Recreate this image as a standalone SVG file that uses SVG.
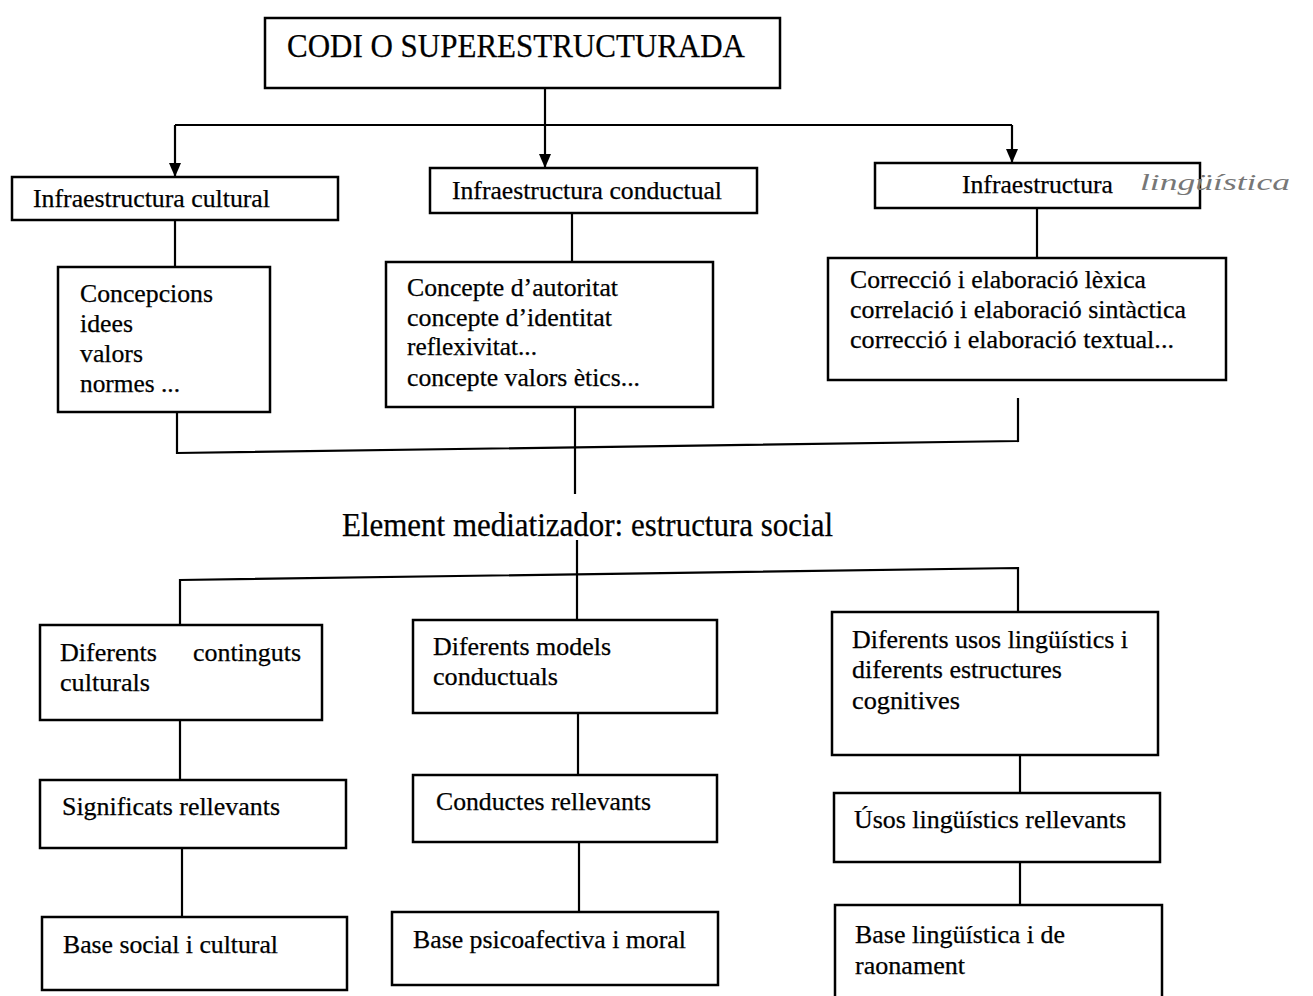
<svg xmlns="http://www.w3.org/2000/svg" width="1313" height="996" viewBox="0 0 1313 996">
<style>
.box{fill:#fff;stroke:#000;stroke-width:2.5}
.t{font-family:"Liberation Serif","Times New Roman",serif;font-size:25px;fill:#000;stroke:#000;stroke-width:0.25}
.big{font-family:"Liberation Serif","Times New Roman",serif;font-size:33px;fill:#000;stroke:#000;stroke-width:0.25}
.c{fill:none;stroke:#000;stroke-width:2.2}
.hand{font-family:"Liberation Serif",serif;font-style:italic;font-size:24px;fill:#777}
</style>
<defs>
<marker id="ah" viewBox="0 0 14 12" refX="14" refY="6" markerWidth="14" markerHeight="12" markerUnits="userSpaceOnUse" orient="auto">
<path d="M0,0 L14,6 L0,12 Z" fill="#000"/>
</marker>
</defs>
<rect width="1313" height="996" fill="#fff"/>
<g id="connectors">
<line class="c" x1="545" y1="88" x2="545" y2="125"/>
<line class="c" x1="175" y1="125" x2="1012" y2="125"/>
<line class="c" x1="175" y1="125" x2="175" y2="177" marker-end="url(#ah)"/>
<line class="c" x1="545" y1="125" x2="545" y2="168" marker-end="url(#ah)"/>
<line class="c" x1="1012" y1="125" x2="1012" y2="163" marker-end="url(#ah)"/>
<line class="c" x1="175" y1="220" x2="175" y2="267"/>
<line class="c" x1="572" y1="213" x2="572" y2="262"/>
<line class="c" x1="1037" y1="208" x2="1037" y2="258"/>
<polyline class="c" points="177,412 177,453 1018,441 1018,398"/>
<line class="c" x1="575" y1="400" x2="575" y2="494"/>
<line class="c" x1="577" y1="540" x2="577" y2="620"/>
<polyline class="c" points="180,625 180,580 1018,568 1018,612"/>
<line class="c" x1="180" y1="720" x2="180" y2="780"/>
<line class="c" x1="578" y1="713" x2="578" y2="775"/>
<line class="c" x1="1020" y1="755" x2="1020" y2="793"/>
<line class="c" x1="182" y1="848" x2="182" y2="917"/>
<line class="c" x1="579" y1="842" x2="579" y2="912"/>
<line class="c" x1="1020" y1="862" x2="1020" y2="905"/>
</g>
<g id="codi">
<rect class="box" x="265" y="18" width="515" height="70"/>
<text class="big" x="287" y="57" textLength="458" lengthAdjust="spacingAndGlyphs">CODI O SUPERESTRUCTURADA</text>
</g>
<g id="infra-cultural">
<rect class="box" x="12" y="177" width="326" height="43"/>
<text class="t" x="33" y="207" textLength="237" lengthAdjust="spacingAndGlyphs">Infraestructura cultural</text>
</g>
<g id="infra-conductual">
<rect class="box" x="430" y="168" width="327" height="45"/>
<text class="t" x="452" y="199" textLength="270" lengthAdjust="spacingAndGlyphs">Infraestructura conductual</text>
</g>
<g id="infra-linguistica">
<rect class="box" x="875" y="163" width="325" height="45"/>
<text class="t" x="962" y="193" textLength="151" lengthAdjust="spacingAndGlyphs">Infraestructura</text>
<text class="hand" x="1140" y="190" textLength="150" lengthAdjust="spacingAndGlyphs">lingüística</text>
</g>
<g id="concepcions">
<rect class="box" x="58" y="267" width="212" height="145"/>
<text class="t" x="80" y="302" textLength="133" lengthAdjust="spacingAndGlyphs">Concepcions</text>
<text class="t" x="80" y="332" textLength="53" lengthAdjust="spacingAndGlyphs">idees</text>
<text class="t" x="80" y="362" textLength="63" lengthAdjust="spacingAndGlyphs">valors</text>
<text class="t" x="80" y="392" textLength="100" lengthAdjust="spacingAndGlyphs">normes ...</text>
</g>
<g id="concepte">
<rect class="box" x="386" y="262" width="327" height="145"/>
<text class="t" x="407" y="296" textLength="211" lengthAdjust="spacingAndGlyphs">Concepte d’autoritat</text>
<text class="t" x="407" y="326" textLength="205" lengthAdjust="spacingAndGlyphs">concepte d’identitat</text>
<text class="t" x="407" y="355" textLength="130" lengthAdjust="spacingAndGlyphs">reflexivitat...</text>
<text class="t" x="407" y="386" textLength="233" lengthAdjust="spacingAndGlyphs">concepte valors ètics...</text>
</g>
<g id="correccio">
<rect class="box" x="828" y="258" width="398" height="122"/>
<text class="t" x="850" y="288" textLength="296" lengthAdjust="spacingAndGlyphs">Correcció i elaboració lèxica</text>
<text class="t" x="850" y="318" textLength="336" lengthAdjust="spacingAndGlyphs">correlació i elaboració sintàctica</text>
<text class="t" x="850" y="348" textLength="324" lengthAdjust="spacingAndGlyphs">correcció i elaboració  textual...</text>
</g>
<g id="element-mediatizador">
<text class="big" x="342" y="536" textLength="491" lengthAdjust="spacingAndGlyphs">Element mediatizador: estructura social</text>
</g>
<g id="continguts">
<rect class="box" x="40" y="625" width="282" height="95"/>
<text class="t" x="60" y="661" textLength="97" lengthAdjust="spacingAndGlyphs">Diferents</text>
<text class="t" x="193" y="661" textLength="108" lengthAdjust="spacingAndGlyphs">continguts</text>
<text class="t" x="60" y="691" textLength="90" lengthAdjust="spacingAndGlyphs">culturals</text>
</g>
<g id="models">
<rect class="box" x="413" y="620" width="304" height="93"/>
<text class="t" x="433" y="655" textLength="178" lengthAdjust="spacingAndGlyphs">Diferents models</text>
<text class="t" x="433" y="685" textLength="125" lengthAdjust="spacingAndGlyphs">conductuals</text>
</g>
<g id="usos">
<rect class="box" x="832" y="612" width="326" height="143"/>
<text class="t" x="852" y="648" textLength="276" lengthAdjust="spacingAndGlyphs">Diferents usos lingüístics i</text>
<text class="t" x="852" y="678" textLength="210" lengthAdjust="spacingAndGlyphs">diferents estructures</text>
<text class="t" x="852" y="709" textLength="108" lengthAdjust="spacingAndGlyphs">cognitives</text>
</g>
<g id="significats">
<rect class="box" x="40" y="780" width="306" height="68"/>
<text class="t" x="62" y="815" textLength="218" lengthAdjust="spacingAndGlyphs">Significats rellevants</text>
</g>
<g id="conductes">
<rect class="box" x="413" y="775" width="304" height="67"/>
<text class="t" x="436" y="810" textLength="215" lengthAdjust="spacingAndGlyphs">Conductes rellevants</text>
</g>
<g id="usos-rellevants">
<rect class="box" x="834" y="793" width="326" height="69"/>
<text class="t" x="854" y="828" textLength="272" lengthAdjust="spacingAndGlyphs">Úsos lingüístics rellevants</text>
</g>
<g id="base-social">
<rect class="box" x="42" y="917" width="305" height="73"/>
<text class="t" x="63" y="953" textLength="215" lengthAdjust="spacingAndGlyphs">Base social i cultural</text>
</g>
<g id="base-psico">
<rect class="box" x="392" y="912" width="326" height="73"/>
<text class="t" x="413" y="948" textLength="273" lengthAdjust="spacingAndGlyphs">Base psicoafectiva i moral</text>
</g>
<g id="base-linguistica">
<rect class="box" x="835" y="905" width="327" height="95"/>
<text class="t" x="855" y="943" textLength="210" lengthAdjust="spacingAndGlyphs">Base lingüística i de</text>
<text class="t" x="855" y="974" textLength="110" lengthAdjust="spacingAndGlyphs">raonament</text>
</g>
</svg>
